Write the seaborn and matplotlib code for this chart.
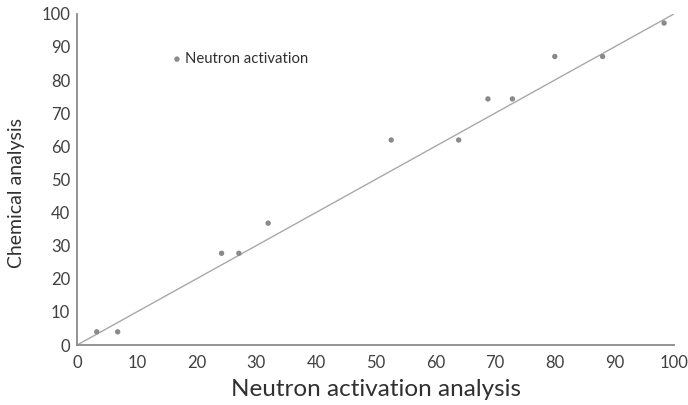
import matplotlib
matplotlib.use("Agg")
import matplotlib.pyplot as plt
import seaborn as sns
import pandas as pd

neutron = [3.3, 6.8, 24.2, 27.1, 32.0, 52.6, 63.9, 68.8, 72.9, 80.0, 88.0, 98.3]
chemical = [4.0, 4.0, 27.7, 27.7, 36.8, 61.9, 61.9, 74.3, 74.3, 87.1, 87.1, 97.2]
line_x = [0, 100]
line_y = [0, 100]
x_ticks = [0, 10, 20, 30, 40, 50, 60, 70, 80, 90, 100]
y_ticks = [0, 10, 20, 30, 40, 50, 60, 70, 80, 90, 100]

sns.set_style("white")
plt.rcParams['font.family'] = ['Lato', 'DejaVu Sans']

fig = plt.figure(figsize=(6.88, 4.05), dpi=100)
ax = fig.add_axes([0.112, 0.148, 0.868, 0.818])

df = pd.DataFrame({"x": neutron, "y": chemical})
sns.lineplot(x=line_x, y=line_y, ax=ax, color="#a8a8a8", linewidth=1.0)
sns.scatterplot(data=df, x="x", y="y", ax=ax, color="#8a8a8a", s=15,
                edgecolor="none", label="Neutron activation", zorder=3)

ax.set_xlim(0, 100)
ax.set_ylim(0, 100)
ax.set_xticks(x_ticks)
ax.set_yticks(y_ticks)
ax.tick_params(axis="both", length=0, labelsize=12, labelcolor="#404040")
ax.tick_params(axis="x", pad=7)
ax.tick_params(axis="y", pad=5)
ax.set_xlabel("Neutron activation analysis", fontsize=17.5, color="#303030", labelpad=6)
ax.set_ylabel("Chemical analysis", fontsize=14, color="#303030", labelpad=12, y=0.46)

for side in ["top", "right"]:
    ax.spines[side].set_visible(False)
for side in ["left", "bottom"]:
    ax.spines[side].set_color("#8a8a8a")
    ax.spines[side].set_linewidth(1.3)

leg = ax.legend(loc="upper left", bbox_to_anchor=(0.12, 0.925), frameon=False,
                fontsize=10.7, handletextpad=-0.45, markerscale=1.0, labelcolor="#303030")

fig.savefig("out.png", dpi=100)
